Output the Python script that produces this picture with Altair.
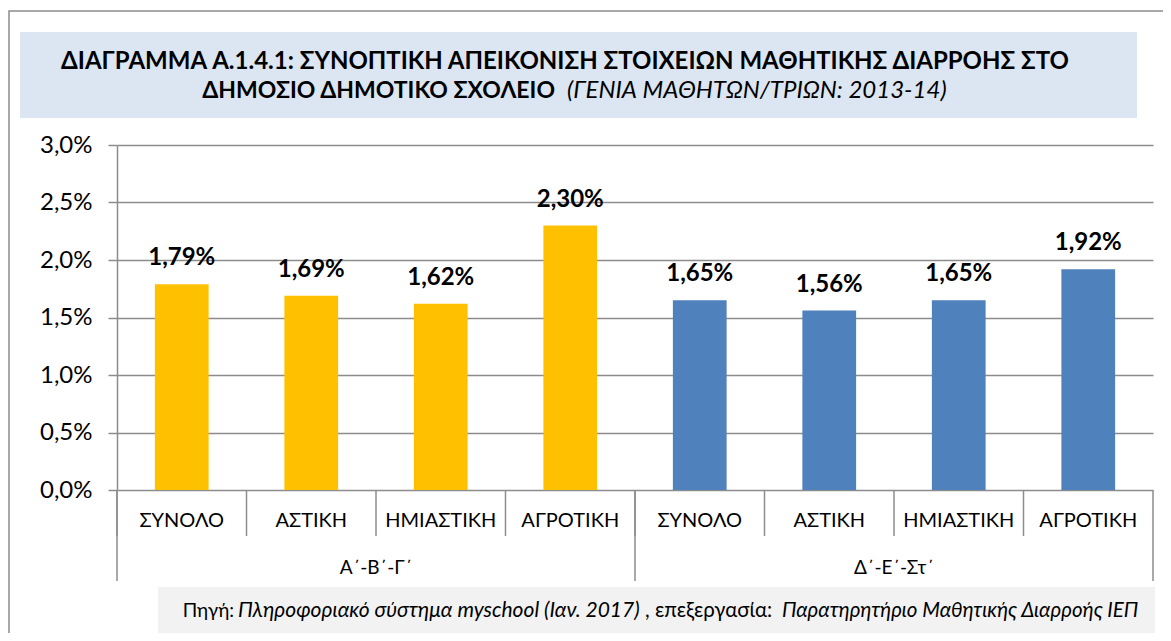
import altair as alt
import pandas as pd

groups = ["Α΄-Β΄-Γ΄", "Δ΄-Ε΄-Στ΄"]
categories = ["ΣΥΝΟΛΟ", "ΑΣΤΙΚΗ", "ΗΜΙΑΣΤΙΚΗ", "ΑΓΡΟΤΙΚΗ"]
values_abg = [0.0179, 0.0169, 0.0162, 0.0230]
values_dest = [0.0165, 0.0156, 0.0165, 0.0192]
y_ticks = [0, 0.005, 0.01, 0.015, 0.02, 0.025, 0.03]
colors = ["#FFC000", "#4F81BD"]

title_line1 = "ΔΙΑΓΡΑΜΜΑ  Α.1.4.1:  ΣΥΝΟΠΤΙΚΗ  ΑΠΕΙΚΟΝΙΣΗ  ΣΤΟΙΧΕΙΩΝ ΜΑΘΗΤΙΚΗΣ ΔΙΑΡΡΟΗΣ ΣΤΟ"
title_line2_bold = "ΔΗΜΟΣΙΟ ΔΗΜΟΤΙΚΟ ΣΧΟΛΕΙΟ"
title_line2_italic = "(ΓΕΝΙΑ ΜΑΘΗΤΩΝ/ΤΡΙΩΝ: 2013-14)"
source_parts = [
    ("Πηγή:", "normal"),
    ("Πληροφοριακό σύστημα myschool (Ιαν. 2017)", "italic"),
    (", επεξεργασία:", "normal"),
    ("Παρατηρητήριο Μαθητικής Διαρροής ΙΕΠ", "italic"),
]

FONT = "Lato"

rows = []
for g, vals in zip(groups, [values_abg, values_dest]):
    for c, v in zip(categories, vals):
        rows.append({"group": g, "cat": c, "key": g + "|" + c, "value": v})
df = pd.DataFrame(rows)
keys = list(df["key"])

W, H = 1036, 345
GRAY = "#8c8c8c"

xenc = alt.X("key:N", sort=keys, axis=None,
             scale=alt.Scale(paddingInner=0, paddingOuter=0))
xenc0 = alt.X("key:N", sort=keys, axis=None, bandPosition=0,
              scale=alt.Scale(paddingInner=0, paddingOuter=0))

yenc = alt.Y("value:Q",
             scale=alt.Scale(domain=[0, 0.03], nice=False),
             axis=alt.Axis(values=y_ticks, title=None,
                           labelExpr="replace(format(datum.value, '.1%'), '.', ',')",
                           labelFontSize=24, labelFont=FONT, labelColor="#000",
                           labelPadding=16, tickSize=9, tickColor=GRAY, tickWidth=1.5,
                           domainColor=GRAY, domainWidth=1.5,
                           grid=True, gridColor=GRAY, gridWidth=1.5))

bars = alt.Chart(df).mark_bar(width=alt.RelativeBandSize(0.415)).encode(
    x=xenc, y=yenc,
    color=alt.Color("group:N", scale=alt.Scale(domain=groups, range=colors), legend=None),
)

labels = alt.Chart(df).transform_calculate(
    lab="replace(format(datum.value, '.2%'), '.', ',')"
).mark_text(fontSize=24, fontWeight="bold", font=FONT, baseline="bottom", dy=-14, color="#000").encode(
    x=xenc, y=alt.Y("value:Q"), text="lab:N"
)

cat_labels = alt.Chart(df).mark_text(fontSize=20, font=FONT, baseline="middle", color="#000").encode(
    x=xenc, y=alt.value(H + 31), text="cat:N"
)

short_sep = alt.Chart(df).mark_rule(color=GRAY, strokeWidth=1.5).encode(
    x=xenc0, y=alt.value(H), y2=alt.value(H + 46)
)

first_keys = df.groupby("group", sort=False).head(1)
long_sep = alt.Chart(first_keys).mark_rule(color=GRAY, strokeWidth=1.5).encode(
    x=xenc0, y=alt.value(H), y2=alt.value(H + 91)
)

dummy = pd.DataFrame({"a": [0]})
end_sep = alt.Chart(dummy).mark_rule(color=GRAY, strokeWidth=1.5).encode(
    x=alt.value(W), y=alt.value(H), y2=alt.value(H + 91)
)

mid_keys = df.groupby("group", sort=False).nth(2)
group_labels = alt.Chart(mid_keys).mark_text(fontSize=19, font=FONT, baseline="middle", color="#000").encode(
    x=xenc0, y=alt.value(H + 78), text="group:N"
)

outer = alt.Chart(dummy).mark_rect(fill=None, stroke=GRAY, strokeWidth=1.5).encode(
    x=alt.value(-108), x2=alt.value(1080), y=alt.value(-134), y2=alt.value(520)
)

title_box = alt.Chart(dummy).mark_rect(color="#DCE6F2").encode(
    x=alt.value(-97), x2=alt.value(1020), y=alt.value(-113), y2=alt.value(-27)
)

t1 = alt.Chart(dummy).mark_text(text=title_line1, fontSize=24, fontWeight="bold", font=FONT,
                                 align="center", baseline="middle", color="#000").encode(
    x=alt.value(448), y=alt.value(-83))
t2a = alt.Chart(dummy).mark_text(text=title_line2_bold, fontSize=23, fontWeight="bold", font=FONT,
                                  align="right", baseline="middle", color="#000").encode(
    x=alt.value(438), y=alt.value(-54))
t2b = alt.Chart(dummy).mark_text(text=title_line2_italic, fontSize=24, fontStyle="italic", font=FONT,
                                  align="left", baseline="middle", color="#000").encode(
    x=alt.value(450), y=alt.value(-54))

src_box = alt.Chart(dummy).mark_rect(color="#F2F2F2").encode(
    x=alt.value(41), x2=alt.value(1038), y=alt.value(H + 97), y2=alt.value(H + 144)
)

src_x = [117, 121, 528, 665]
src_align = ["right", "left", "left", "left"]
src_size = [19, 21, 20.5, 20.5]
src_layers = []
for (txt, style), xx, al, fs in zip(source_parts, src_x, src_align, src_size):
    src_layers.append(
        alt.Chart(dummy).mark_text(text=txt, fontSize=fs, fontStyle=style, font=FONT,
                                   align=al, baseline="middle", color="#000").encode(
            x=alt.value(xx), y=alt.value(H + 121))
    )

chart = alt.layer(
    outer, title_box, t1, t2a, t2b, src_box, *src_layers,
    bars, labels, cat_labels, short_sep, long_sep, end_sep, group_labels
).properties(
    width=W, height=H,
    padding={"left": 109, "top": 137, "right": 10, "bottom": 143},
    autosize="none",
).configure_view(stroke=None)

chart.save("out.html", embed_options={"renderer": "svg", "actions": False})
